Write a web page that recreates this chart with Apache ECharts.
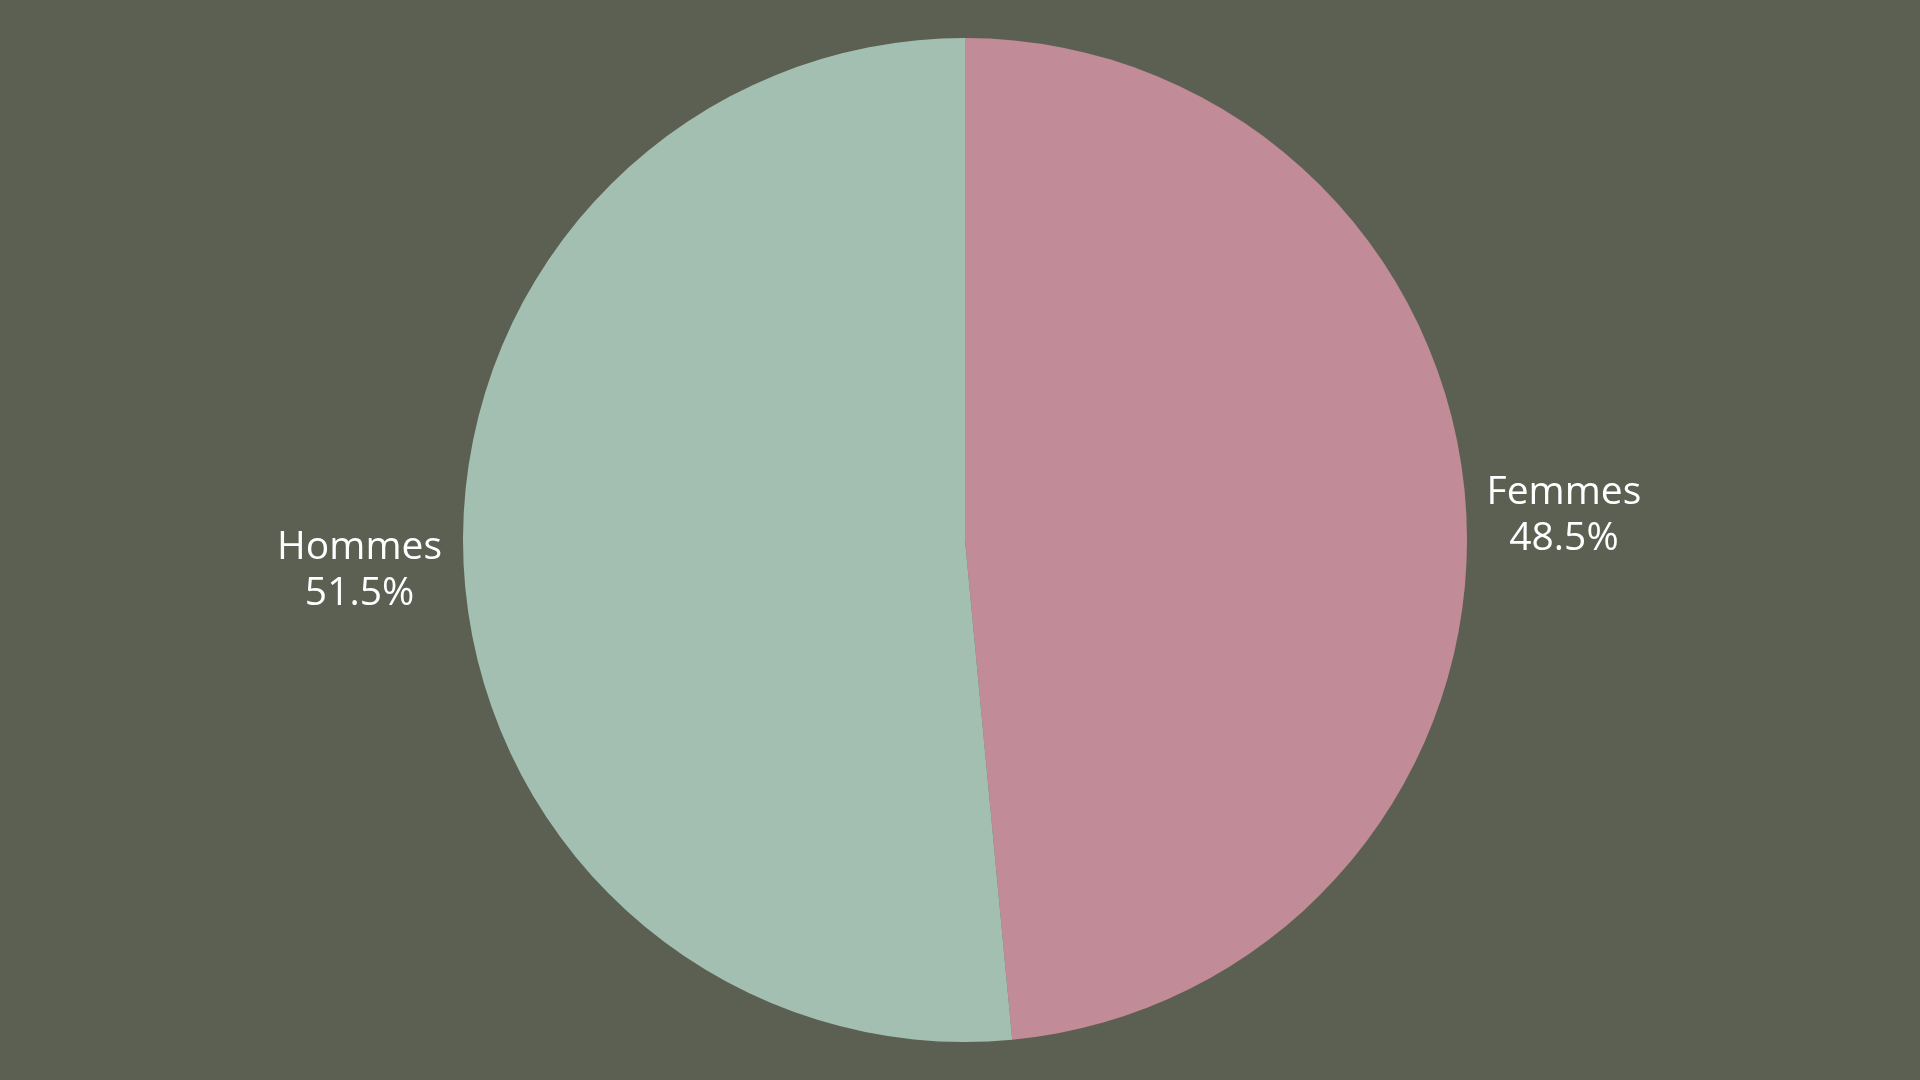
<!DOCTYPE html>
<html>
<head>
<meta charset="utf-8">
<script src="https://cdn.jsdelivr.net/npm/echarts@6/dist/echarts.min.js"></script>
<style>
  html, body { margin: 0; padding: 0; background: #5c6052; }
  #main { width: 1920px; height: 1080px; }
</style>
</head>
<body>
<div id="main"></div>
<script>
// données
var labels = ['Femmes', 'Hommes'];
var values = [48.5, 51.5];

// styles par tranche
var colors = ['#c28b98', '#a2bfb1'];
var labelWidths = [185, 198];
var labelPadding = [[0, 0, 0, 0], [14, 0, 0, 0]];

var textStyle = {
  align: 'center',
  color: '#ffffff',
  fontSize: 39,
  lineHeight: 46,
  fontFamily: '"Open Sans", "Noto Sans", sans-serif'
};

var pieData = labels.map(function (name, i) {
  return {
    name: name,
    value: values[i],
    itemStyle: { color: colors[i] },
    label: {
      padding: labelPadding[i],
      rich: { t: Object.assign({ width: labelWidths[i] }, textStyle) }
    }
  };
});

var chart = echarts.init(document.getElementById('main'));
chart.setOption({
  backgroundColor: '#5c6052',
  animation: false,
  series: [
    {
      type: 'pie',
      center: [965, 540],
      radius: 502,
      startAngle: 90,
      clockwise: true,
      avoidLabelOverlap: false,
      itemStyle: { borderWidth: 0 },
      label: {
        show: true,
        position: 'outside',
        distanceToLabelLine: 5,
        formatter: function (p) {
          return '{t|' + p.name + '}\n{t|' + p.value.toFixed(1) + '%}';
        },
        rich: { t: Object.assign({ width: 190 }, textStyle) }
      },
      labelLine: { show: false, length: 0, length2: 0 },
      emphasis: { disabled: true },
      data: pieData
    }
  ]
});
</script>
</body>
</html>
